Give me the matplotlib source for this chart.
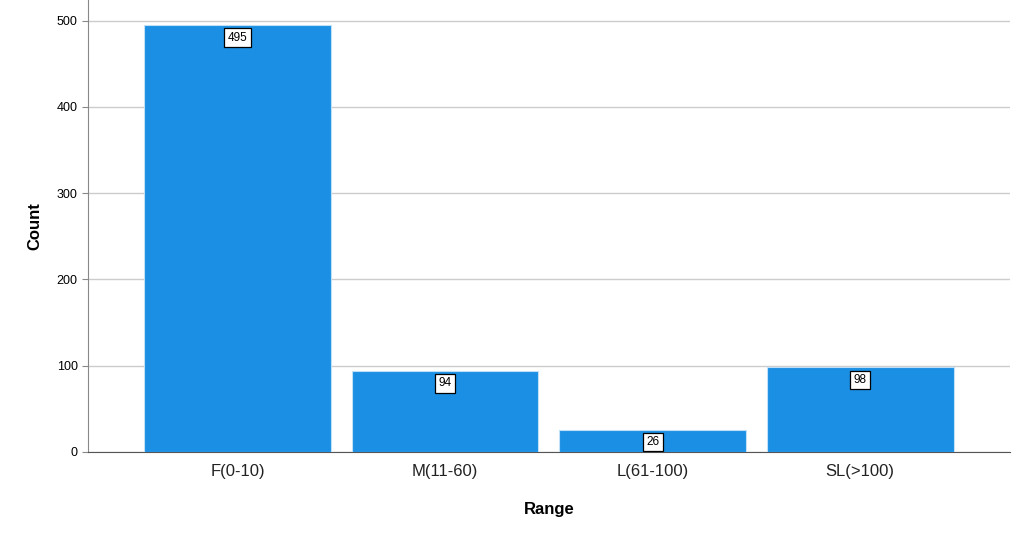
import matplotlib
matplotlib.use('Agg')
import numpy as np
from matplotlib import pyplot as plt

categories = ['F(0-10)', 'M(11-60)', 'L(61-100)', 'SL(>100)']
counts = [495, 94, 26, 98]
y_ticks = [0, 100, 200, 300, 400, 500]

plt.rcParams['font.family'] = ['Arial', 'Liberation Sans', 'DejaVu Sans']

fig = plt.figure(figsize=(10.24, 5.34), dpi=100)
ax = fig.add_axes([0.086, 0.1536, 0.9, 0.8464])

x = np.arange(len(categories))
ax.bar(x, counts, width=0.9, color='#1a8fe3', edgecolor='#bfe0f7', linewidth=0.8, zorder=3)

# подписи значений в рамках
for xi, c in zip(x, counts):
    ax.annotate(str(c), (xi, c), xytext=(0, -9), textcoords='offset points',
                ha='center', va='center', fontsize=8.5, zorder=4,
                bbox=dict(boxstyle='square,pad=0.28', fc='white', ec='black', lw=0.9))

ax.set_xlim(-0.72, 3.72)
ax.set_ylim(0, 524)
ax.set_yticks(y_ticks)
ax.set_xticks(x)
ax.set_xticklabels(categories, fontsize=12, color='#222222')
ax.tick_params(axis='y', labelsize=9, length=4, color='#888888')
ax.tick_params(axis='x', length=0, pad=9)
ax.grid(axis='y', color='#cccccc', linewidth=1, zorder=0)

for side in ['top', 'right']:
    ax.spines[side].set_visible(False)
ax.spines['left'].set_color('#888888')
ax.spines['bottom'].set_color('#555555')

ax.set_xlabel('Range', fontsize=12, fontweight='bold', labelpad=16)
ax.set_ylabel('Count', fontsize=12, fontweight='bold', labelpad=10)

fig.savefig('out.png', dpi=100)
